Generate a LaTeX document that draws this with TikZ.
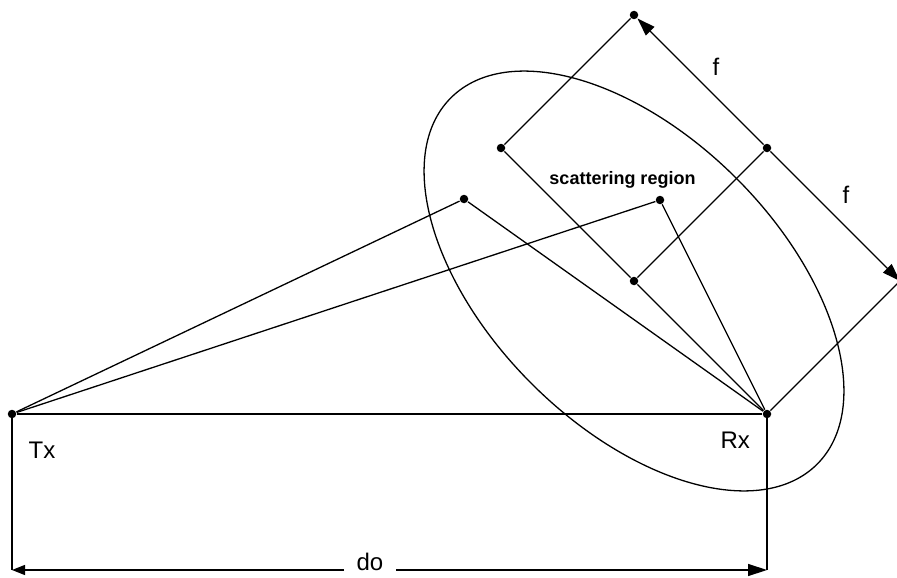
\documentclass[tikz,border=0pt]{standalone}
\usepackage{fontspec}
\setmainfont{Liberation Sans}
\usetikzlibrary{arrows.meta}
\begin{document}
\begin{tikzpicture}[x=1pt,y=-1pt,line width=1.3pt,
  dot/.style={circle,fill,inner sep=0pt,minimum size=8.5pt},
  lbl/.style={inner sep=0pt,font=\fontsize{24}{28}\selectfont},
  farrow/.style={-{Triangle[length=18pt,width=12pt]}},
  larrow/.style={-{Triangle[length=13pt,width=10pt]}},
  rarrow/.style={-{Triangle[length=19pt,width=12pt]}}]
\useasboundingbox (0,0) rectangle (897,578);
\clip (0,0) rectangle (897,578);
% points
\node[dot] (Tx) at (12,414) {};
\node[dot] (Rx) at (767,414) {};
\node[dot] (T) at (634,15) {};
\node[dot] (A) at (501,148) {};
\node[dot] (M) at (767,148) {};
\node[dot] (B) at (634,281) {};
\node[dot] (P1) at (464,199) {};
\node[dot] (P2) at (660,200) {};
\coordinate (C) at (900,281);
\coordinate (DL) at (12,570);
\coordinate (DR) at (767,570);
% scattering ellipse
\draw[rotate around={-45:(B.center)}] (B.center) ellipse [x radius=259, y radius=145];
% rays
\draw (Tx) -- (Rx);
\draw (Tx) -- (P1);
\draw (Tx) -- (P2);
\draw (P1) -- (Rx);
\draw (P2) -- (Rx);
\draw (T) -- (A);
\draw (A) -- (B);
\draw (B) -- (Rx);
\draw (B) -- (M);
\draw (Rx) -- (C);
% f dimension
\draw[farrow] (M) -- (T);
\draw[farrow] (M) -- (C);
% do dimension
\draw (Tx.center) -- (DL);
\draw (Rx.center) -- (DR);
\node[lbl,inner xsep=12pt,anchor=base] (do) at (370,570) {do};
\draw[larrow] (do.base west) -- (DL);
\draw[rarrow] (do.base east) -- (DR);
% labels
\node[lbl,anchor=base west] (txl) at (28,458) {Tx};
\node[lbl,anchor=base west] (rxl) at (720,448) {Rx};
\node[lbl,anchor=base west] (f1) at (712,75) {f};
\node[lbl,anchor=base west] (f2) at (842,203) {f};
\node[inner sep=0pt,anchor=base,font=\bfseries\fontsize{18}{20}\selectfont] (sr) at (622.5,184) {scattering region};
\end{tikzpicture}
\end{document}
